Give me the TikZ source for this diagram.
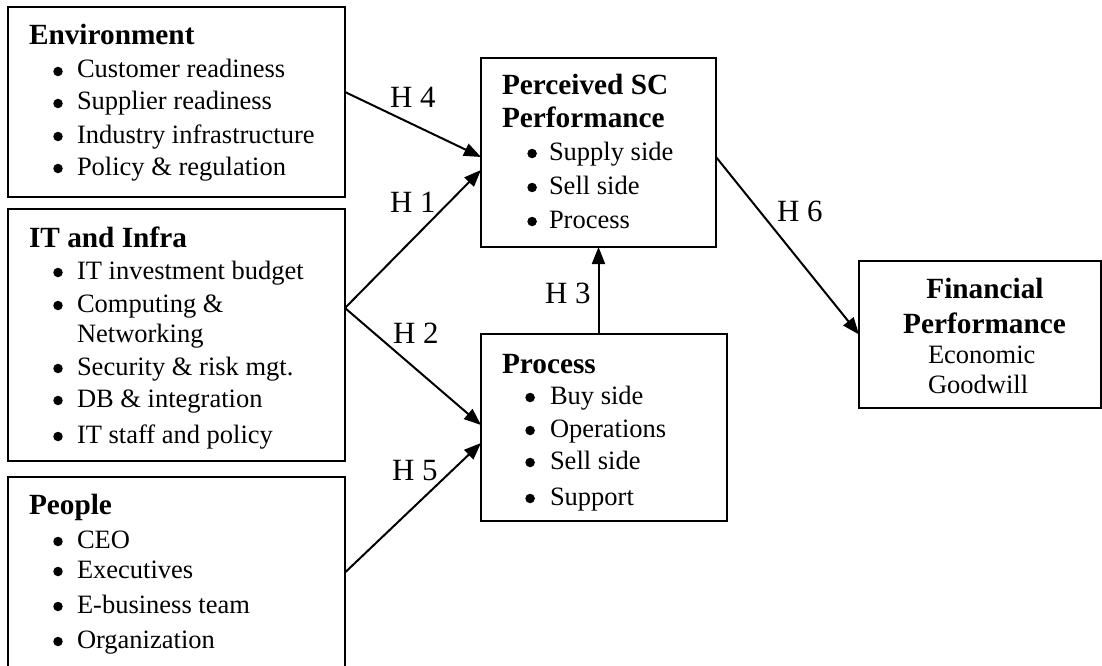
\documentclass[tikz,border=0pt]{standalone}
\usepackage{fontspec}
\setmainfont{Liberation Serif}
\usetikzlibrary{arrows.meta}
\newcommand\blitem[5]{\node[dot] (#1b) at (#2+4.6,#4-6.5) {}; \node[txt] (#1) at (#3,#4) {#5};}
\begin{document}
\begin{tikzpicture}[x=1pt,y=-1pt,
 box/.style={draw, line width=2pt, inner sep=0pt, outer sep=0pt, rectangle},
 dot/.style={circle, fill=black, inner sep=0pt, minimum size=9.5pt},
 txt/.style={anchor=base west, inner sep=0pt, outer sep=0pt, font=\fontsize{26.5}{30}\selectfont},
 ttl/.style={anchor=base west, inner sep=0pt, outer sep=0pt, font=\fontsize{29.3}{33}\selectfont\bfseries},
 hyp/.style={anchor=base west, inner sep=0pt, outer sep=0pt, font=\fontsize{30.9}{34}\selectfont},
 conn/.style={line width=2pt, -{Triangle[length=17pt,width=13pt]}}]
\useasboundingbox (0,0) rectangle (1102,666);
% boxes
\node[box, minimum width=337pt, minimum height=190pt] (env) at (176.5,102) {};
\node[box, minimum width=337pt, minimum height=252pt] (it) at (176.5,335) {};
\node[box, minimum width=337pt, minimum height=191pt] (ppl) at (176.5,572.5) {};
\node[box, minimum width=235pt, minimum height=189pt] (perc) at (598.5,152.5) {};
\node[box, minimum width=246pt, minimum height=187pt] (proc) at (604,427.5) {};
\node[box, minimum width=242pt, minimum height=147pt] (fin) at (980,334.5) {};
% Environment
\node[ttl] (envt) at (29,45) {Environment};
\blitem{env1}{53.4}{77}{78}{Customer readiness}
\blitem{env2}{53.4}{77}{110}{Supplier readiness}
\blitem{env3}{53.4}{77}{143}{Industry infrastructure}
\blitem{env4}{53.4}{77}{175}{Policy \& regulation}
% IT
\node[ttl] (itt) at (29,247) {IT and Infra};
\blitem{it1}{53.4}{77}{279}{IT investment budget}
\blitem{it2}{53.4}{77}{312}{Computing \&}
\node[txt] (it2b2) at (77,342) {Networking};
\blitem{it3}{53.4}{77}{375}{Security \& risk mgt.}
\blitem{it4}{53.4}{77}{407}{DB \& integration}
\blitem{it5}{53.4}{77}{443}{IT staff and policy}
% People
\node[ttl] (pplt) at (29,514) {People};
\blitem{ppl1}{53.4}{77}{548}{CEO}
\blitem{ppl2}{53.4}{77}{578}{Executives}
\blitem{ppl3}{53.4}{77}{613}{E-business team}
\blitem{ppl4}{53.4}{77}{648}{Organization}
% Perceived
\node[ttl] (perct1) at (502,95) {Perceived SC};
\node[ttl] (perct2) at (502,128) {Performance};
\blitem{perc1}{527.5}{549}{160}{Supply side}
\blitem{perc2}{527.5}{549}{194}{Sell side}
\blitem{perc3}{527.5}{549}{228}{Process}
% Process
\node[ttl] (proct) at (502,373) {Process};
\blitem{proc1}{525.5}{550}{404}{Buy side}
\blitem{proc2}{525.5}{550}{437}{Operations}
\blitem{proc3}{525.5}{550}{469}{Sell side}
\blitem{proc4}{525.5}{550}{505}{Support}
% Financial
\node[ttl, anchor=base] (fin1) at (985,298) {Financial};
\node[ttl, anchor=base] (fin2) at (984.5,333) {Performance};
\node[txt] (fin3) at (928,363) {Economic};
\node[txt] (fin4) at (928,393) {Goodwill};
% connectors
\draw[conn] ([yshift=10pt]env.east) -- ([yshift=-4.5pt]perc.west);
\draw[conn] ([yshift=27pt]it.east) -- ([yshift=-17.5pt]perc.west);
\draw[conn] ([yshift=27pt]it.east) -- ([yshift=2.5pt]proc.west);
\draw[conn] (ppl.east) -- ([yshift=-15.5pt]proc.west);
\draw[conn] (proc.north -| perc.south) -- (perc.south);
\draw[conn] ([yshift=-4.5pt]perc.east) -- (fin.west);
% labels
\node[hyp] (h4) at (390,107) {H 4};
\node[hyp] (h1) at (390,212) {H 1};
\node[hyp] (h2) at (393,343) {H 2};
\node[hyp] (h5) at (392,480) {H 5};
\node[hyp] (h3) at (545,303) {H 3};
\node[hyp] (h6) at (777,221) {H 6};
\end{tikzpicture}
\end{document}
